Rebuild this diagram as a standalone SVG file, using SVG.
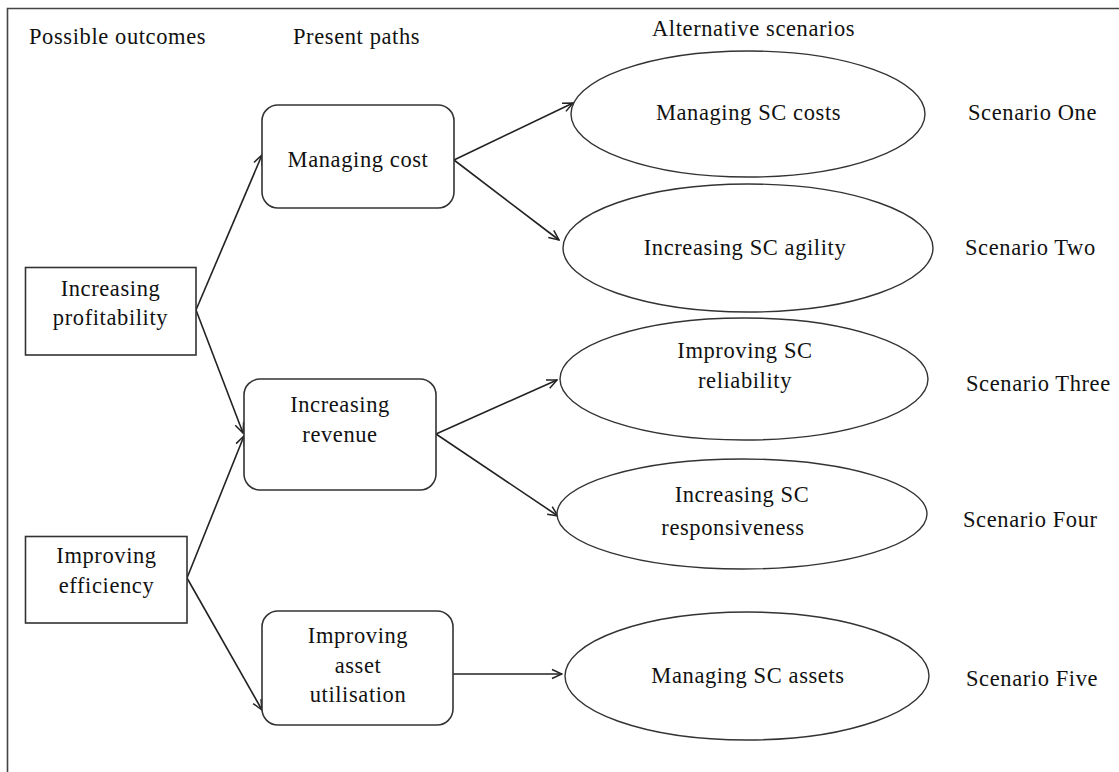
<svg xmlns="http://www.w3.org/2000/svg" width="1119" height="772" viewBox="0 0 1119 772">
  <defs>
    <marker id="arrow" viewBox="0 0 12 12" refX="11" refY="6" markerWidth="12" markerHeight="12" markerUnits="userSpaceOnUse" orient="auto">
      <path d="M1,1.5 L11,6 L1,10.5" fill="none" stroke="#222" stroke-width="1.5" stroke-linejoin="miter"/>
    </marker>
  </defs>
  <style>
    text { font-family: "Liberation Serif", "Times New Roman", serif; font-size: 22.5px; letter-spacing: 0.6px; fill: #111; }
    .c { text-anchor: middle; }
    .box { fill: #fff; stroke: #333; stroke-width: 1.6; }
    .oval { fill: #fff; stroke: #333; stroke-width: 1.4; }
    .link { fill: none; stroke: #222; stroke-width: 1.6; marker-end: url(#arrow); }
    .frame { fill: none; stroke: #444; stroke-width: 1.6; }
  </style>

  <rect width="1119" height="772" fill="#fff"/>

  <!-- open frame: top and left edges only -->
  <path class="frame" d="M7.5,772 L7.5,8.5 L1119,8.5"/>

  <!-- column headings -->
  <g id="headings">
    <text x="29" y="44">Possible outcomes</text>
    <text x="293" y="44">Present paths</text>
    <text x="652" y="36">Alternative scenarios</text>
  </g>

  <!-- connectors -->
  <g id="connectors">
    <line class="link" x1="196" y1="310" x2="262" y2="155"/>
    <line class="link" x1="196" y1="310" x2="243" y2="433"/>
    <line class="link" x1="187" y1="578" x2="244" y2="436"/>
    <line class="link" x1="187" y1="578" x2="262" y2="710"/>
    <line class="link" x1="454" y1="160" x2="573" y2="103"/>
    <line class="link" x1="454" y1="160" x2="559" y2="240"/>
    <line class="link" x1="436" y1="434" x2="557" y2="380"/>
    <line class="link" x1="436" y1="434" x2="558" y2="516"/>
    <line class="link" x1="453" y1="674" x2="562" y2="674"/>
  </g>

  <!-- possible outcomes -->
  <g id="increasing-profitability">
    <rect class="box" x="25.5" y="267.5" width="170.5" height="87.5"/>
    <text class="c" x="110.5" y="296">Increasing</text>
    <text class="c" x="110.5" y="325">profitability</text>
  </g>
  <g id="improving-efficiency">
    <rect class="box" x="25.5" y="536.5" width="161.5" height="86.5"/>
    <text class="c" x="106.5" y="563">Improving</text>
    <text class="c" x="106.5" y="593">efficiency</text>
  </g>

  <!-- present paths -->
  <g id="managing-cost">
    <rect class="box" x="262" y="105" width="192" height="103" rx="16" ry="16"/>
    <text class="c" x="358" y="167">Managing cost</text>
  </g>
  <g id="increasing-revenue">
    <rect class="box" x="244" y="379" width="192" height="111" rx="16" ry="16"/>
    <text class="c" x="340" y="412">Increasing</text>
    <text class="c" x="340" y="442">revenue</text>
  </g>
  <g id="improving-asset-utilisation">
    <rect class="box" x="262" y="611" width="191" height="114" rx="16" ry="16"/>
    <text class="c" x="358" y="643">Improving</text>
    <text class="c" x="358" y="673">asset</text>
    <text class="c" x="358" y="702">utilisation</text>
  </g>

  <!-- alternative scenarios -->
  <g id="managing-sc-costs">
    <ellipse class="oval" cx="748" cy="114" rx="177" ry="63"/>
    <text class="c" x="748.5" y="120">Managing SC costs</text>
  </g>
  <g id="increasing-sc-agility">
    <ellipse class="oval" cx="748" cy="248" rx="185" ry="64"/>
    <text class="c" x="745" y="255">Increasing SC agility</text>
  </g>
  <g id="improving-sc-reliability">
    <ellipse class="oval" cx="744" cy="379" rx="184" ry="61"/>
    <text class="c" x="745" y="358">Improving SC</text>
    <text class="c" x="745" y="388">reliability</text>
  </g>
  <g id="increasing-sc-responsiveness">
    <ellipse class="oval" cx="742" cy="514" rx="185" ry="55"/>
    <text class="c" x="742" y="502">Increasing SC</text>
    <text class="c" x="733" y="535">responsiveness</text>
  </g>
  <g id="managing-sc-assets">
    <ellipse class="oval" cx="747" cy="676" rx="182" ry="64"/>
    <text class="c" x="748" y="683">Managing SC assets</text>
  </g>

  <!-- scenario labels -->
  <g id="scenario-labels">
    <text x="968" y="120">Scenario One</text>
    <text x="965" y="255">Scenario Two</text>
    <text x="966" y="391">Scenario Three</text>
    <text x="963" y="527">Scenario Four</text>
    <text x="966" y="686">Scenario Five</text>
  </g>
</svg>
